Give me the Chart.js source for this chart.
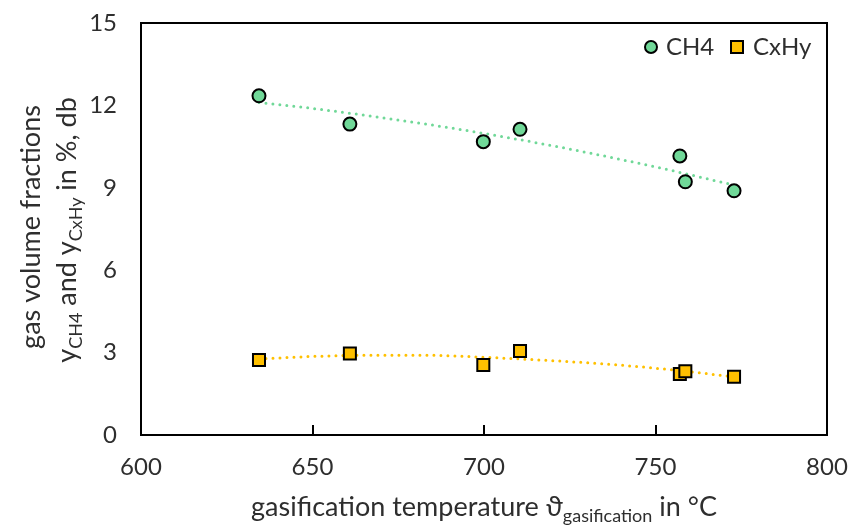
<!DOCTYPE html>
<html>
<head>
<meta charset="utf-8">
<script src="https://cdn.jsdelivr.net/npm/chart.js@4/dist/chart.umd.min.js"></script>
<style>
  html, body { margin: 0; padding: 0; background: #fff; }
  #wrap { width: 852px; height: 527px; position: relative; }
</style>
</head>
<body>
<div id="wrap"><canvas id="c" width="852" height="527"></canvas></div>
<script>
// ---- data ----
const temperatures = [634.4, 660.9, 699.8, 710.5, 757.1, 758.7, 772.9];
const ch4Values    = [12.35, 11.32, 10.68, 11.13, 10.16, 9.22, 8.89];
const cxhyValues   = [2.73, 2.97, 2.55, 3.06, 2.22, 2.32, 2.12];

// trendlines
const ch4TrendX    = [634.4, 650, 675, 700, 725, 750, 772.9];
const ch4TrendY    = [12.11, 11.89, 11.47, 10.98, 10.41, 9.76, 9.10];
const cxhyTrendX   = [634.4, 650, 665, 684, 700, 712, 730, 743, 755, 772.9];
const cxhyTrendY   = [2.77, 2.86, 2.90, 2.90, 2.83, 2.76, 2.63, 2.51, 2.37, 2.12];

const xTicks = [600, 650, 700, 750, 800];
const yTicks = [0, 3, 6, 9, 12, 15];

const seriesNames = ['CH4', 'CxHy'];

const GREEN = 'rgb(112,216,152)';
const GOLD = '#FFC000';
const FONT = 'Lato, "Open Sans", sans-serif';
const TXT = '#2e2e2e';

const toPts = (xs, ys) => xs.map((x, i) => ({ x: x, y: ys[i] }));

const decorPlugin = {
  id: 'decor',
  afterDraw(chart) {
    const ctx = chart.ctx;
    const a = chart.chartArea;
    const xs = chart.scales.x;
    ctx.save();
    // frame
    ctx.strokeStyle = '#000';
    ctx.lineWidth = 2;
    ctx.strokeRect(a.left, a.top, a.right - a.left, a.bottom - a.top);
    // inward ticks on bottom axis
    xTicks.slice(1, -1).forEach(v => {
      const px = Math.round(xs.getPixelForValue(v));
      ctx.beginPath();
      ctx.moveTo(px, a.bottom);
      ctx.lineTo(px, a.bottom - 10);
      ctx.stroke();
    });

    ctx.fillStyle = TXT;
    const big = '27px ' + FONT;
    const small = '18px ' + FONT;

    function drawSegs(segs, cx, cy) {
      let total = 0;
      segs.forEach(s => { ctx.font = s.sub ? small : big; total += ctx.measureText(s.t).width; });
      let x = cx - total / 2;
      ctx.textAlign = 'left';
      ctx.textBaseline = 'alphabetic';
      segs.forEach(s => {
        ctx.font = s.sub ? small : big;
        ctx.fillText(s.t, x, cy + (s.sub ? 6 : 0));
        x += ctx.measureText(s.t).width;
      });
    }

    // x title
    drawSegs([
      { t: 'gasification temperature \u03D1' },
      { t: 'gasification', sub: true },
      { t: ' in \u00B0C' }
    ], (a.left + a.right) / 2, 516);

    // y title (two lines, rotated)
    ctx.save();
    ctx.translate(40, 227);
    ctx.rotate(-Math.PI / 2);
    drawSegs([{ t: 'gas volume fractions' }], 0, 0);
    ctx.restore();

    ctx.save();
    ctx.translate(76, 230);
    ctx.rotate(-Math.PI / 2);
    drawSegs([
      { t: 'y' }, { t: 'CH4', sub: true },
      { t: ' and y' }, { t: 'CxHy', sub: true },
      { t: ' in %, db' }
    ], 0, 0);
    ctx.restore();

    // legend
    ctx.lineWidth = 2;
    ctx.strokeStyle = '#000';
    ctx.fillStyle = GREEN;
    ctx.beginPath();
    ctx.arc(651, 47, 6, 0, Math.PI * 2);
    ctx.fill(); ctx.stroke();
    ctx.fillStyle = GOLD;
    ctx.fillRect(731, 41, 12, 12);
    ctx.strokeRect(731, 41, 12, 12);
    ctx.fillStyle = TXT;
    ctx.font = '24px ' + FONT;
    ctx.textAlign = 'left';
    ctx.textBaseline = 'middle';
    ctx.fillText(seriesNames[0], 666, 47);
    ctx.fillText(seriesNames[1], 753, 47);
    ctx.restore();
  }
};

new Chart(document.getElementById('c'), {
  type: 'scatter',
  data: {
    datasets: [
      {
        label: seriesNames[0],
        data: toPts(temperatures, ch4Values),
        pointStyle: 'circle',
        pointRadius: 6.5,
        pointBackgroundColor: GREEN,
        pointBorderColor: '#000',
        pointBorderWidth: 2,
        showLine: false
      },
      {
        label: seriesNames[1],
        data: toPts(temperatures, cxhyValues),
        pointStyle: 'rect',
        pointRadius: 8.5,
        pointBackgroundColor: GOLD,
        pointBorderColor: '#000',
        pointBorderWidth: 2,
        showLine: false
      },
      {
        label: 'CH4 trend',
        data: toPts(ch4TrendX, ch4TrendY),
        showLine: true,
        pointRadius: 0,
        borderColor: GREEN,
        borderWidth: 3,
        borderDash: [0, 7],
        borderCapStyle: 'round',
        cubicInterpolationMode: 'monotone',
        fill: false
      },
      {
        label: 'CxHy trend',
        data: toPts(cxhyTrendX, cxhyTrendY),
        showLine: true,
        pointRadius: 0,
        borderColor: GOLD,
        borderWidth: 3,
        borderDash: [0, 7],
        borderCapStyle: 'round',
        cubicInterpolationMode: 'monotone',
        fill: false
      }
    ]
  },
  options: {
    responsive: false,
    animation: false,
    layout: { padding: { top: 23, right: 25, left: 0, bottom: 0 } },
    plugins: {
      legend: { display: false },
      tooltip: { enabled: false }
    },
    scales: {
      x: {
        type: 'linear',
        min: 600, max: 800,
        afterBuildTicks: s => { s.ticks = xTicks.map(v => ({ value: v })); },
        afterFit: s => { s.height = 92; s.paddingLeft = 0; s.paddingRight = 0; },
        grid: { display: false, drawTicks: false },
        border: { display: false },
        ticks: { color: TXT, font: { family: FONT, size: 24 }, padding: 18, maxRotation: 0 }
      },
      y: {
        type: 'linear',
        min: 0, max: 15,
        afterBuildTicks: s => { s.ticks = yTicks.map(v => ({ value: v })); },
        afterFit: s => { s.width = 141; s.paddingTop = 0; s.paddingBottom = 0; },
        grid: { display: false, drawTicks: false },
        border: { display: false },
        ticks: { color: TXT, font: { family: FONT, size: 24 }, padding: 24 }
      }
    }
  },
  plugins: [decorPlugin]
});
</script>
</body>
</html>
